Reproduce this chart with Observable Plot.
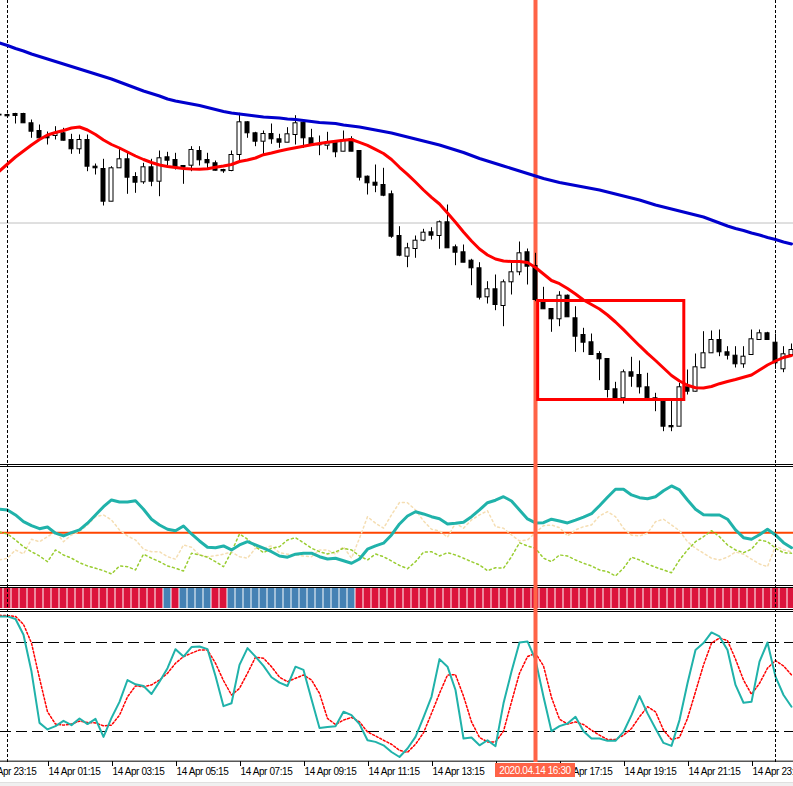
<!DOCTYPE html>
<html>
<head>
<meta charset="utf-8">
<script src="https://cdn.jsdelivr.net/npm/d3@7"></script>
<script src="https://cdn.jsdelivr.net/npm/@observablehq/plot@0.6"></script>
<style>
html,body{margin:0;padding:0;background:#fff;}
#chart{position:relative;width:793px;height:786px;overflow:hidden;background:#fff;font-family:"Liberation Sans",Arial,sans-serif;}
#chart svg{display:block;}
.sep{position:absolute;left:0;width:793px;height:1px;background:#000;}
</style>
</head>
<body>
<div id="chart"></div>
<script>
// ---- M15 bars, 13 Apr 23:45 -> 15 Apr 00:30 (prices in points) ----
const firstBar = "2020-04-13T23:45Z";
const barCount = 100;

const open = [
385.3,385,386,386,376.7,369,363.3,364,366.7,360,
350.7,360,333.3,331,298.3,331.7,340.7,323,317.7,332.7,
318.3,342.7,340,334,334.3,349,340,336.7,330,329,
345,377.7,366.7,358.3,366,360.7,357.3,365,377.3,361.7,
355,354.3,357.3,348.3,360.7,349,323.3,317.3,315,305.7,
264,243.3,251,259.3,267.7,264,277.7,252.7,247.7,239.3,
231.7,202.7,210.7,194,217.7,227.7,247.7,234,200,191,
180.7,204.3,181.7,165,157.7,146,141,110.7,101.7,127.7,
125,112.7,101.7,98.3,74,73.3,112.7,108.3,131.7,146.7,
160,147.7,144.3,135.7,145,160,166.7,157.3,130.7,145];
const high = [
386,386,386.7,386.7,380,375,368,373.3,371.7,365.7,
365,365,336,340.7,333.3,352.3,347.3,327.3,336.7,340.7,
349,347.7,346.7,334,353.3,353.3,346.7,339,330.7,349,
386.7,378.3,367.7,369,376,365.7,372.3,384.3,378.3,370.7,
364,367.7,358.3,369,363.3,349,324,335,331.7,309,
273.3,256.7,264,270.7,272.3,279,295,255,255,240.7,
237.3,218.3,225,220,237.7,258,251,246.7,212.7,191,
208.3,205,193.3,171.7,166,148.3,141,117.7,130,142.7,
139,126.7,106.7,100,101,116.7,130,146,168.3,169,
170,153.3,153.3,153.3,170,170,167.7,166,153.3,156];
const low = [
383.5,383,376,376.7,361.7,359.3,355,360,359,345.7,
345.7,328.3,325,294,298.3,331.7,305.7,306.7,315.7,313.3,
303.3,334,330,315.7,328.3,334,331,329,326.7,328.3,
336.7,361.7,353.3,345,355.7,351.7,357.3,355,351.7,354.3,
344.3,350,342.3,348.3,348.3,319,305,307.3,303.3,261.7,
243.3,232.3,241.7,258.3,260,250.7,251.7,234.3,237.3,214.3,
200,196,189.3,173.3,205,224.3,215,198.3,190.7,167.7,
173.3,182.7,147.7,147.3,145,119.3,102,101,96,112.7,
106,101,88.3,68.3,68.3,73.3,105,108,131.7,146.7,
143.3,140,132,131.7,145,160,160,130.7,127.3,143];
const close = [
384.5,383.7,384,376.7,368.3,361.7,361.7,366.7,359.3,350.7,
360,333.3,331.7,298.3,331.7,340.7,322.3,317.3,332.7,318.3,
341.7,339.3,332.3,332.3,350,339.7,336.7,329.3,328.7,345,
377.7,366.7,358.3,366,360.7,357.3,365.7,376.7,361.7,354.3,
354.7,357.3,347.7,360,348.3,322.3,316.7,314.3,304.3,263.3,
244.3,251.7,259.3,267.3,264.3,277.7,251.7,247.3,237.3,231.7,
202.3,210.7,195,217.7,227.7,246.7,233.3,200,190.7,180.7,
204.3,182.7,163.3,157.3,145,140.7,110,101,127.7,123.3,
112.7,101.7,100,73.3,72.7,112.7,108.3,132.7,146.7,160,
147.7,144.3,135.7,143.3,160.7,166.7,160,136.7,145.7,150];

// moving averages (red fast, blue slow)
const maFast = [
329,336,343,349,355,360.5,365,367.5,369.5,372,
373,370,365.5,360,355.5,352,348,344,340.5,337.5,
335,333.5,332.5,331.5,331,330.7,331.3,332.7,334,335.5,
338.5,340,342,345.3,347,349,350.7,352.3,353.7,355.2,
356.5,357.7,358.7,359.7,360.5,357.7,354.7,350.7,346.5,340.5,
332.7,325.7,318,310,302.7,296,287,277.7,268,259,
251,245,241,239,238.5,238.5,237.5,232.5,226,219.5,
216.3,211.5,206,200,195.5,191,185,178,170.3,162.3,
154.3,146.7,139.5,132,124.5,119,114.7,112.2,112,113.5,
116.3,118.5,120.5,122.7,125,130,135,139,142.5,144.5];
const maSlow = [
457,454.5,451.5,449,446,443.5,441,438.5,436,433.5,
431,428.5,426,423.5,421,418,415,412,409,406.5,
404,401,399,397.5,396,394.5,392.5,390.5,388.5,387,
386,385,384,383,382.5,382,381,380.5,379.5,378.5,
377.5,377,376.5,375,374,373,371.5,370,368.5,367,
365,363,361,359,357,355,352.5,350,347.5,344.5,
341.5,339,336.5,334,331.5,329,326.5,324,321.5,319.5,
317.5,316,314.5,313,311.5,310,308,306,304,302,
300,297.5,295,293,291,289,287,285,283,280,
277,274,271.5,269.5,267,265,262.5,260.5,258,256];

// ADX panel
const adx = [
29.4,29.1,27.1,24.4,22.8,21.6,22.3,19.8,18.7,20.0,
21.1,23.8,27.1,30.4,33.1,32.3,32.3,32.8,29.4,25.4,
23.1,21.4,20.8,22.7,19.5,16.7,14.2,14.0,14.7,13.1,
15.1,16.4,15.1,13.8,12.4,10.7,10.2,11.4,11.8,11.8,
10.4,9.5,9.8,8.8,7.8,9.5,13.4,14.7,15.8,19.1,
23.5,26.7,28.4,27.5,26.4,25.6,23.5,23.8,24.2,26.4,
29.1,32.0,33.0,34.4,32.7,29.1,25.5,23.9,24.0,25.4,
24.7,23.9,25.0,26.2,27.6,30.8,34.2,37.4,37.4,35.1,
34.0,33.6,34.4,36.8,38.7,37.1,33.1,29.4,27.2,27.1,
27.1,25.4,21.1,18.0,17.4,19.2,21.4,19.1,16.0,14.0];
const plusDi = [
20.3,19.5,17.1,14.4,12.4,10.7,8.4,13.1,11.1,9.8,
8.0,6.7,5.8,4.8,3.5,6.7,6.4,5.1,11.4,9.8,
8.4,6.7,5.8,4.7,11.8,11.1,10.2,8.4,6.4,12.4,
19.5,17.4,14.4,12.0,13.8,14.4,17.1,18.0,16.0,13.8,
12.4,11.5,12.3,13.8,13.1,10.7,9.1,11.5,10.4,8.7,
6.9,5.6,8.4,12.2,12.4,10.7,12.0,11.1,9.8,8.4,
7.1,4.8,6.0,5.8,10.4,16.0,14.7,13.8,9.8,8.4,
11.1,10.7,9.1,7.8,6.7,5.1,4.4,2.7,5.8,10.2,
9.1,7.5,6.2,5.1,4.0,9.1,13.1,16.4,18.4,20.8,
18.4,15.1,13.1,12.0,13.4,17.1,16.4,13.8,12.0,11.8];
const minusDi = [
9.1,9.8,13.1,11.5,17.4,16.4,18.4,20.4,16.4,19.1,
20.4,23.1,26.4,27.1,25.1,21.1,18.7,17.1,13.4,12.4,
12.4,10.4,9.4,15.1,14.2,11.1,10.4,10.8,11.4,12.3,
10.4,9.8,13.8,13.8,14.7,12.0,11.4,11.1,10.7,10.4,
13.1,13.1,11.4,14.4,9.8,17.8,26.4,23.8,21.8,27.1,
32.1,32.0,29.1,24.7,21.4,20.7,18.2,23.8,21.8,25.1,
27.1,28.8,22.4,21.8,19.1,16.7,17.1,20.0,22.8,23.1,
22.0,18.7,21.1,22.4,23.1,26.7,28.4,26.4,21.8,19.0,
18.7,19.8,24.4,25.4,23.1,20.8,16.4,13.8,11.8,9.8,
9.1,10.2,12.3,11.4,9.4,7.5,6.4,14.7,13.1,12.4];
const adxLevels = [20];

// trend state bar: 1 = up (blue), -1 = down (red)
const trend = [
-1,-1,-1,-1,-1,-1,-1,-1,-1,-1,
-1,-1,-1,-1,-1,-1,-1,-1,-1,-1,
-1,1,-1,1,1,1,1,-1,-1,1,
1,1,1,1,1,1,1,1,1,1,
1,1,1,1,1,-1,-1,-1,-1,-1,
-1,-1,-1,-1,-1,-1,-1,-1,-1,-1,
-1,-1,-1,-1,-1,-1,-1,-1,-1,-1,
-1,-1,-1,-1,-1,-1,-1,-1,-1,-1,
-1,-1,-1,-1,-1,-1,-1,-1,-1,-1,
-1,-1,-1,-1,-1,-1,-1,-1,-1,-1];

// Stochastic
const stochMain = [
97.6,97.6,95.8,85.2,60.4,25.8,21.4,23.6,27.2,24.3,
28.8,25.0,28.5,16.4,29.2,40.0,54.7,51.8,50.7,45.3,
53.6,62.7,75.5,70.5,76.9,77.3,75.5,57.4,37.1,39.0,
64.9,76.2,70.5,64.2,56.6,52.9,50.7,63.7,61.5,41.7,
22.4,23.1,23.6,33.3,31.0,25.0,14.1,13.0,10.7,6.2,
2.8,8.5,16.4,29.5,43.4,68.8,63.7,48.0,15.3,16.0,
10.7,14.1,10.1,39.0,60.4,80.0,80.7,68.3,43.4,20.2,
23.6,25.4,29.9,20.2,15.3,15.3,13.7,13.7,19.7,31.0,
43.9,32.2,22.0,12.3,10.3,27.7,52.5,75.0,79.6,86.8,
84.1,75.0,51.4,39.4,40.0,67.1,80.0,57.0,44.6,36.7];
const stochSignal = [
98.3,98.1,97.6,92.2,79.6,55.9,33.3,25.0,24.3,25.0,
27.0,26.1,25.8,23.8,24.3,31.0,43.4,50.7,50.2,51.4,
54.7,59.3,66.0,70.5,72.8,75.0,75.0,66.0,54.3,44.6,
49.1,59.3,70.1,69.4,63.7,56.6,53.6,55.9,58.1,54.7,
45.7,28.8,24.7,27.7,29.5,26.5,19.7,17.0,14.1,11.4,
7.3,6.0,11.4,19.1,32.2,45.7,58.1,58.3,43.9,26.5,
16.0,13.0,13.0,20.2,40.0,59.3,70.5,72.8,64.2,43.0,
28.3,25.0,26.5,24.7,20.9,17.5,14.6,14.6,17.5,22.0,
29.9,36.7,33.3,20.9,14.6,16.0,28.8,46.8,64.9,79.6,
83.0,81.3,68.8,54.7,45.1,52.5,62.7,67.8,64.2,58.1];
const stochLevels = [20, 80];
const stochBase = [0];

// annotations
const priceLevels = [277];
const daySeparators = ["2020-04-14T00:00Z", "2020-04-15T00:00Z"].map(d => new Date(d));
const signalTimes = ["2020-04-14T16:30Z"].map(d => new Date(d));
const signalLabel = "2020.04.14 16:30";
const zoneStart = ["2020-04-14T16:35Z"], zoneEnd = ["2020-04-14T21:09Z"], zoneHigh = [199], zoneLow = [100];
const axisTicks = ["2020-04-13T23:15Z","2020-04-14T01:15Z","2020-04-14T03:15Z","2020-04-14T05:15Z",
  "2020-04-14T07:15Z","2020-04-14T09:15Z","2020-04-14T11:15Z","2020-04-14T13:15Z","2020-04-14T15:15Z",
  "2020-04-14T17:15Z","2020-04-14T19:15Z","2020-04-14T21:15Z","2020-04-14T23:15Z"].map(d => new Date(d));

// ---- build ----
const M15 = 15 * 60 * 1000;
const t0 = +new Date(firstBar);
const bars = d3.range(barCount).map(i => ({
  t: new Date(t0 + i * M15),
  open: open[i], high: high[i], low: low[i], close: close[i],
  maFast: maFast[i], maSlow: maSlow[i],
  adx: adx[i], plusDi: plusDi[i], minusDi: minusDi[i],
  trend: trend[i], stoch: stochMain[i], signal: stochSignal[i]
}));
const zones = zoneStart.map((s, i) => ({t1: new Date(s), t2: new Date(zoneEnd[i]), high: zoneHigh[i], low: zoneLow[i]}));

const W = 793;
const barPx = 8; // one M15 bar step in pixels
const xScale = {type: "utc", domain: [new Date(t0 + (1 - 0.875) * M15), new Date(t0 + (1 + 98.25) * M15)], range: [0, W], axis: null};
const shift = (d, px) => new Date(+d + px / barPx * M15);
const baseStyle = {background: "transparent", overflow: "hidden", fontFamily: "'Liberation Sans', Arial, sans-serif", fontSize: "10px", letterSpacing: "-0.4px"};

const chart = document.getElementById("chart");
function place(node, top, z) {
  node.style.position = "absolute";
  node.style.left = "0px";
  node.style.top = top + "px";
  if (z) node.style.zIndex = z;
  chart.appendChild(node);
  return node;
}

// main price panel
const mainPlot = Plot.plot({
  width: W, height: 464, margin: 0,
  x: xScale,
  y: {domain: [0, 500], range: [499.5, -0.5], axis: null},
  style: baseStyle,
  marks: [
    Plot.ruleY(priceLevels, {stroke: "#c0c0c0"}),
    Plot.ruleX(daySeparators, {stroke: "#000", strokeDasharray: "3,2"}),
    Plot.ruleX(signalTimes, {stroke: "#ff6347", strokeWidth: 4}),
    Plot.ruleX(bars, {x: "t", y1: "low", y2: "high", stroke: "#000"}),
    Plot.rect(bars, {filter: d => d.close <= d.open, x1: d => shift(d.t, -2), x2: d => shift(d.t, 2), y1: "open", y2: "close", fill: "#000", stroke: "#000"}),
    Plot.rect(bars, {filter: d => d.close > d.open, x1: d => shift(d.t, -2), x2: d => shift(d.t, 2), y1: "open", y2: "close", fill: "#fff", stroke: "#000"}),
    Plot.line(bars, {x: "t", y: "maSlow", stroke: "#0000cd", strokeWidth: 3}),
    Plot.line(bars, {x: "t", y: "maFast", stroke: "#ff0000", strokeWidth: 3}),
    Plot.rect(zones, {x1: "t1", x2: "t2", y1: "low", y2: "high", fill: "none", stroke: "#ff0000", strokeWidth: 3})
  ]
});
place(mainPlot, 0);

// ADX panel
const adxPlot = Plot.plot({
  width: W, height: 118, margin: 0,
  x: xScale,
  y: {domain: [0, 40], range: [115.2, 15.2], axis: null},
  style: baseStyle,
  marks: [
    Plot.ruleY(adxLevels, {stroke: "#ff4500", strokeWidth: 2}),
    Plot.line(bars, {x: "t", y: "minusDi", stroke: "#f5deb3", strokeDasharray: "2,3"}),
    Plot.line(bars, {x: "t", y: "plusDi", stroke: "#9acd32", strokeDasharray: "2,3"}),
    Plot.line(bars, {x: "t", y: "adx", stroke: "#20b2aa", strokeWidth: 3})
  ]
});
place(adxPlot, 467);

// trend colour bar
const barPlot = Plot.plot({
  width: W, height: 20, margin: 0,
  x: xScale,
  style: baseStyle,
  marks: [
    Plot.rect(bars, {filter: d => d.trend < 0, x1: d => shift(d.t, -3.5), x2: d => shift(d.t, 3.5), fill: "#dc143c", insetTop: -0.5}),
    Plot.rect(bars, {filter: d => d.trend > 0, x1: d => shift(d.t, -3.5), x2: d => shift(d.t, 3.5), fill: "#4682b4", insetTop: -0.5})
  ]
});
place(barPlot, 588);

// stochastic panel + time axis
const stochPlot = Plot.plot({
  width: W, height: 170, marginTop: 0, marginLeft: 0, marginRight: 0, marginBottom: 21,
  x: xScale,
  y: {domain: [0, 100], range: [148.67, 0.33], axis: null},
  style: baseStyle,
  marks: [
    Plot.ruleY(stochLevels, {stroke: "#000", strokeDasharray: "11,5"}),
    Plot.line(bars, {x: "t", y: "signal", stroke: "#ff0000", strokeDasharray: "2,2"}),
    Plot.line(bars, {x: "t", y: "stoch", stroke: "#20b2aa", strokeWidth: 2}),
    Plot.ruleY(stochBase, {stroke: "#000"}),
    Plot.axisX(axisTicks, {tickFormat: d3.utcFormat("%d %b %H:%M"), tickSize: 5, tickPadding: 1, textAnchor: "start", dx: 1, label: null, fill: "#000", stroke: "#000"})
  ]
});
place(stochPlot, 612);

// subwindow separators
[464, 466, 585, 587, 609, 611].forEach(y => {
  const d = document.createElement("div");
  d.className = "sep";
  d.style.top = y + "px";
  chart.appendChild(d);
});

// overlay for vertical objects across the sub-windows
const overlay = Plot.plot({
  width: W, height: 298, margin: 0,
  x: xScale,
  style: baseStyle,
  marks: [
    Plot.ruleX(daySeparators, {stroke: "#000", strokeDasharray: "3,2"}),
    Plot.ruleX(signalTimes, {stroke: "#ff6347", strokeWidth: 4})
  ]
});
place(overlay, 464, 5);

// highlighted time label on the axis
const sx = stochPlot.scale("x").apply(signalTimes[0]);
const lab = document.createElement("div");
lab.textContent = signalLabel;
Object.assign(lab.style, {position: "absolute", left: (sx - 40) + "px", top: "763px", width: "80px", height: "14px",
  lineHeight: "15px", background: "#ff6347", color: "#fff", fontSize: "10px", letterSpacing: "-0.4px",
  textAlign: "center", zIndex: 6, whiteSpace: "nowrap", overflow: "hidden"});
chart.appendChild(lab);

// status strip at the very bottom
const strip = document.createElement("div");
Object.assign(strip.style, {position: "absolute", left: "0px", top: "782px", width: W + "px", height: "4px", background: "#f0f0f0", borderTop: "1px solid #e0e0e0"});
chart.appendChild(strip);
</script>
</body>
</html>
